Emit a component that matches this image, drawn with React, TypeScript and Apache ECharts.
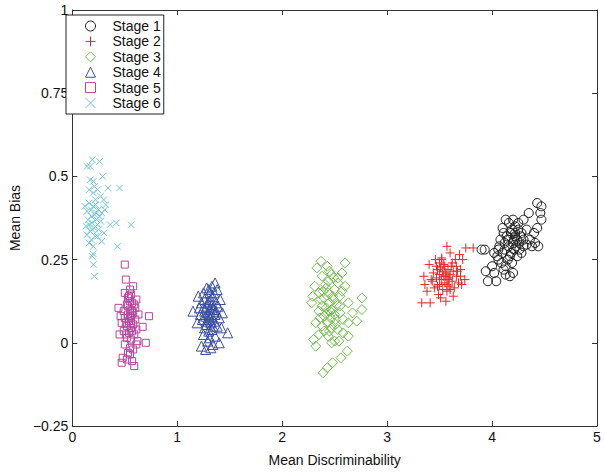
import React, { useEffect, useRef } from "react";
import * as echarts from "echarts";

const seriesNames = ["Stage 1", "Stage 2", "Stage 3", "Stage 4", "Stage 5", "Stage 6"];

const stage1: number[][] = [
  [4.43,0.42],[4.47,0.41],[4.35,0.39],[4.46,0.39],[4.30,0.37],[4.47,0.37],[4.13,0.37],[4.20,0.37],[4.43,0.345],[4.16,0.36],
  [4.22,0.35],[4.25,0.34],[4.10,0.345],[4.28,0.33],[4.18,0.33],[4.14,0.32],[4.22,0.32],[4.24,0.31],[4.20,0.30],[4.12,0.30],
  [4.08,0.31],[4.26,0.30],[4.16,0.29],[4.21,0.28],[4.30,0.29],[4.33,0.295],[4.38,0.29],[4.44,0.29],[3.90,0.28],[3.93,0.28],
  [4.06,0.28],[4.10,0.27],[4.18,0.27],[4.24,0.26],[4.15,0.25],[4.05,0.26],[4.09,0.24],[4.19,0.24],[4.13,0.23],[4.00,0.23],
  [4.11,0.22],[3.94,0.215],[4.02,0.21],[4.13,0.205],[4.20,0.21],[4.17,0.20],[3.96,0.185],[4.04,0.185],[4.22,0.33],[4.27,0.32],
  [4.19,0.34],[4.15,0.31],[4.11,0.33],[4.30,0.31],[4.23,0.29],[4.07,0.29],[4.17,0.26],[4.26,0.28],[4.36,0.31],[4.40,0.33],
  [4.41,0.30],[4.33,0.34],[4.12,0.28],[4.21,0.31],[4.25,0.36],[4.06,0.25],[4.28,0.27],[4.02,0.27]
];

const stage2: number[][] = [
  [3.57,0.29],[3.75,0.285],[3.82,0.285],[3.52,0.255],[3.60,0.27],[3.69,0.265],[3.46,0.25],[3.72,0.25],[3.40,0.235],[3.50,0.24],
  [3.55,0.23],[3.62,0.24],[3.66,0.23],[3.48,0.22],[3.53,0.215],[3.58,0.22],[3.63,0.215],[3.70,0.22],[3.44,0.21],[3.50,0.205],
  [3.56,0.20],[3.60,0.205],[3.66,0.20],[3.35,0.20],[3.74,0.19],[3.47,0.195],[3.52,0.19],[3.58,0.19],[3.62,0.185],[3.43,0.185],
  [3.55,0.18],[3.68,0.18],[3.71,0.175],[3.50,0.175],[3.59,0.17],[3.45,0.165],[3.38,0.155],[3.53,0.16],[3.64,0.165],[3.57,0.155],
  [3.63,0.14],[3.51,0.135],[3.33,0.12],[3.41,0.12],[3.56,0.125],[3.49,0.145],[3.54,0.235],[3.61,0.23],[3.47,0.23],[3.56,0.21],
  [3.51,0.225],[3.65,0.25],[3.42,0.19],[3.59,0.195],[3.54,0.20],[3.67,0.215],[3.36,0.175],[3.60,0.16],[3.48,0.17],[3.70,0.20],
  [3.57,0.175],[3.52,0.25]
];

const stage3: number[][] = [
  [2.37,0.245],[2.60,0.24],[2.43,0.23],[2.33,0.225],[2.45,0.215],[2.38,0.20],[2.53,0.195],[2.47,0.205],[2.31,0.17],[2.60,0.17],
  [2.42,0.165],[2.50,0.16],[2.57,0.155],[2.44,0.15],[2.35,0.15],[2.48,0.14],[2.55,0.14],[2.76,0.135],[2.40,0.135],[2.28,0.12],
  [2.63,0.12],[2.45,0.12],[2.52,0.115],[2.38,0.11],[2.47,0.10],[2.76,0.10],[2.35,0.095],[2.43,0.09],[2.55,0.09],[2.50,0.085],
  [2.40,0.08],[2.46,0.075],[2.58,0.07],[2.71,0.065],[2.32,0.06],[2.43,0.06],[2.51,0.055],[2.63,0.06],[2.38,0.05],[2.47,0.045],
  [2.53,0.04],[2.40,0.035],[2.35,0.025],[2.63,0.02],[2.44,0.02],[2.58,0.03],[2.30,0.01],[2.50,0.005],[2.32,-0.01],[2.47,0.0],
  [2.62,-0.025],[2.56,-0.045],[2.48,-0.06],[2.43,-0.075],[2.39,-0.09],[2.49,0.13],[2.41,0.175],[2.53,0.18],[2.37,0.13],[2.55,0.11],
  [2.46,0.095],[2.42,0.105],[2.51,0.07],[2.36,0.075],[2.44,0.185],[2.49,0.195],[2.57,0.21],[2.39,0.155],[2.29,0.14],[2.67,0.09],
  [2.45,0.035],[2.54,0.005]
];

const stage4: number[][] = [
  [1.36,0.18],[1.28,0.165],[1.38,0.16],[1.31,0.15],[1.20,0.14],[1.34,0.14],[1.26,0.13],[1.41,0.13],[1.30,0.125],[1.37,0.12],
  [1.23,0.12],[1.33,0.115],[1.28,0.11],[1.39,0.11],[1.25,0.105],[1.35,0.10],[1.31,0.10],[1.15,0.095],[1.43,0.09],[1.29,0.09],
  [1.22,0.085],[1.36,0.085],[1.33,0.08],[1.27,0.08],[1.40,0.075],[1.30,0.07],[1.24,0.07],[1.35,0.065],[1.19,0.06],[1.32,0.06],
  [1.28,0.055],[1.38,0.05],[1.26,0.045],[1.42,0.045],[1.33,0.04],[1.30,0.035],[1.48,0.03],[1.25,0.025],[1.36,0.02],[1.31,0.015],
  [1.29,0.005],[1.40,0.0],[1.23,-0.01],[1.34,-0.005],[1.27,-0.02],[1.32,-0.015],[1.29,0.12],[1.32,0.13],[1.34,0.105],[1.26,0.095],
  [1.30,0.085],[1.37,0.095],[1.31,0.075],[1.28,0.065],[1.34,0.05],[1.21,0.105],[1.35,0.15],[1.25,0.15],[1.33,0.17],[1.30,0.16]
];

const stage5: number[][] = [
  [0.50,0.235],[0.51,0.19],[0.58,0.17],[0.55,0.16],[0.50,0.15],[0.56,0.145],[0.61,0.13],[0.53,0.135],[0.57,0.12],[0.52,0.115],
  [0.44,0.105],[0.55,0.10],[0.60,0.105],[0.49,0.095],[0.58,0.09],[0.53,0.085],[0.73,0.08],[0.56,0.075],[0.50,0.075],[0.60,0.07],
  [0.54,0.065],[0.47,0.06],[0.58,0.055],[0.52,0.05],[0.67,0.048],[0.56,0.045],[0.61,0.04],[0.49,0.035],[0.54,0.03],[0.45,0.025],
  [0.59,0.025],[0.52,0.015],[0.56,0.01],[0.62,0.005],[0.70,0.0],[0.61,-0.005],[0.50,-0.005],[0.55,-0.015],[0.58,-0.02],[0.53,-0.03],
  [0.55,-0.035],[0.48,-0.045],[0.52,-0.05],[0.47,-0.06],[0.59,-0.07],[0.57,-0.055],[0.55,0.08],[0.57,0.095],[0.53,0.11],[0.59,0.115],
  [0.55,0.125],[0.51,0.06],[0.57,0.035],[0.54,0.14],[0.56,0.06],[0.51,0.025],[0.63,0.085],[0.46,0.08]
];

const stage6: number[][] = [
  [0.19,0.55],[0.26,0.545],[0.14,0.53],[0.17,0.53],[0.29,0.50],[0.17,0.49],[0.20,0.485],[0.34,0.465],[0.45,0.465],[0.16,0.46],
  [0.24,0.46],[0.20,0.45],[0.30,0.43],[0.16,0.42],[0.22,0.415],[0.32,0.415],[0.18,0.40],[0.25,0.40],[0.14,0.395],[0.28,0.39],
  [0.21,0.385],[0.56,0.355],[0.42,0.36],[0.36,0.355],[0.15,0.37],[0.23,0.37],[0.19,0.36],[0.27,0.365],[0.13,0.35],[0.21,0.345],
  [0.25,0.34],[0.17,0.335],[0.30,0.33],[0.14,0.325],[0.22,0.32],[0.18,0.31],[0.16,0.30],[0.28,0.305],[0.43,0.29],[0.20,0.29],
  [0.20,0.267],[0.19,0.26],[0.20,0.235],[0.21,0.20],[0.18,0.38],[0.20,0.41],[0.23,0.39],[0.26,0.38],[0.19,0.34],[0.24,0.355],
  [0.16,0.355],[0.22,0.43],[0.27,0.44],[0.21,0.47],[0.31,0.40],[0.24,0.32],[0.12,0.41]
];

const xTicks = [0, 1, 2, 3, 4, 5];
const yTicks = [-0.25, 0, 0.25, 0.5, 0.75, 1];

const allData = [stage1, stage2, stage3, stage4, stage5, stage6];
const colors = ["#1a1a1a", "#e6262b", "#72bb4c", "#3a4fa0", "#b4479e", "#6cc7d6"];
const symbols = [
  "circle",
  "path://M5,0L5,10M0,5L10,5",
  "diamond",
  "triangle",
  "rect",
  "path://M0,0L10,10M0,10L10,0",
];
const sizes = [9, 9, 10, 10, 7, 6.5];

const FONT = "Liberation Sans, Arial, Helvetica, sans-serif";
const AXIS_COLOR = "#333";

export default function App() {
  const ref = useRef<HTMLDivElement>(null);
  useEffect(() => {
    if (!ref.current) return;
    const chart = echarts.init(ref.current, null, { renderer: "svg" });
    const fmtY = (v: number) => String(v).replace("-", "\u2212");
    const baseAxis = {
      axisLine: { show: true, onZero: false, lineStyle: { color: AXIS_COLOR, width: 1 } },
      axisTick: { show: true, inside: true, length: 5, lineStyle: { color: AXIS_COLOR } },
      splitLine: { show: false },
    };
    chart.setOption({
      animation: false,
      backgroundColor: "#fff",
      textStyle: { fontFamily: FONT },
      grid: { left: 62, right: 8, top: 10, bottom: 40, containLabel: false },
      legend: {
        orient: "vertical",
        left: 66,
        top: 15,
        padding: [4, 3, 4, 19],
        itemWidth: 10,
        itemHeight: 10,
        itemGap: 1.4,
        borderColor: "#222",
        borderWidth: 1,
        backgroundColor: "#fff",
        formatter: (name: string) => "{t|" + name + "}",
        textStyle: {
          fontSize: 14,
          color: "#111",
          fontFamily: FONT,
          rich: {
            t: { fontSize: 14, color: "#111", fontFamily: FONT, padding: [0, 0, 0, 12] },
          },
        },
        data: seriesNames.map((n, i) => ({
          name: n,
          icon: symbols[i],
          itemStyle: { color: "transparent", borderColor: colors[i], borderWidth: 1 },
        })),
      },
      xAxis: [
        {
          ...baseAxis,
          type: "value",
          min: 0,
          max: 5,
          interval: 1,
          position: "bottom",
          name: "Mean Discriminability",
          nameLocation: "middle",
          nameGap: 27,
          nameTextStyle: { fontSize: 14, color: "#111", fontFamily: FONT },
          axisLabel: { fontSize: 14, color: "#111", margin: 4, fontFamily: FONT,
            formatter: (v: number) => (xTicks.includes(v) ? String(v) : "") },
        },
        {
          ...baseAxis,
          type: "value",
          min: 0,
          max: 5,
          interval: 1,
          position: "top",
          axisLabel: { show: false },
        },
      ],
      yAxis: [
        {
          ...baseAxis,
          type: "value",
          min: -0.25,
          max: 1,
          interval: 0.25,
          position: "left",
          name: "Mean Bias",
          nameLocation: "middle",
          nameGap: 36,
          nameTextStyle: { fontSize: 14, color: "#111", fontFamily: FONT },
          axisLabel: { fontSize: 14, color: "#111", margin: 4, fontFamily: FONT,
            formatter: (v: number) => (yTicks.some((t) => Math.abs(t - v) < 1e-9) ? fmtY(v) : "") },
        },
        {
          ...baseAxis,
          type: "value",
          min: -0.25,
          max: 1,
          interval: 0.25,
          position: "right",
          axisLabel: { show: false },
        },
      ],
      series: allData.map((d, i) => ({
        name: seriesNames[i],
        type: "scatter",
        xAxisIndex: 0,
        yAxisIndex: 0,
        data: d,
        symbol: symbols[i],
        symbolSize: sizes[i],
        itemStyle: { color: "transparent", borderColor: colors[i], borderWidth: 1, opacity: 1 },
        emphasis: { disabled: true },
      })),
    });
    return () => chart.dispose();
  }, []);
  return (
    <div
      ref={ref}
      style={{ position: "absolute", left: 0, top: 0, width: 605, height: 472 }}
    />
  );
}
